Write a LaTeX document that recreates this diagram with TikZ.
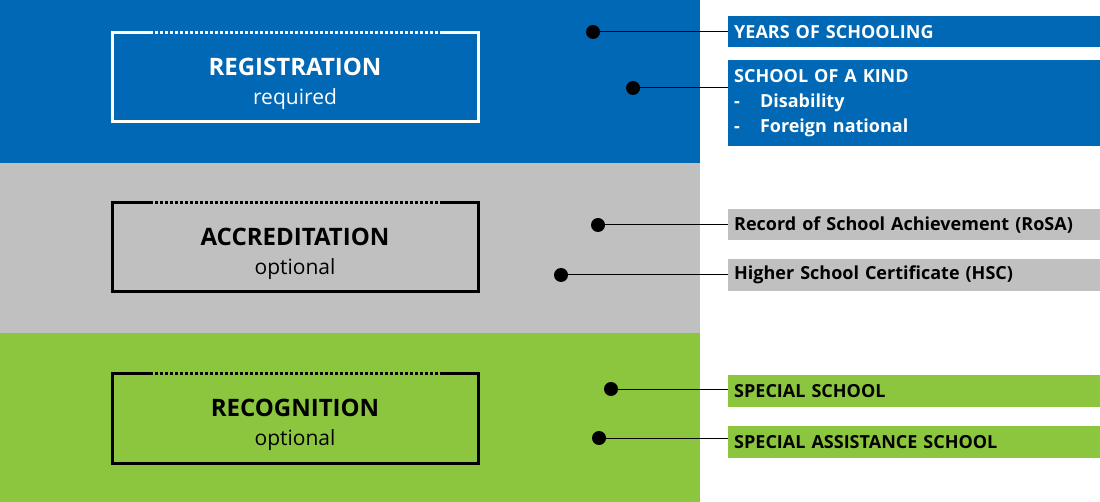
\documentclass[tikz,border=0pt]{standalone}
\usepackage{fontspec}
\setmainfont{Open Sans}
\usetikzlibrary{positioning}
\definecolor{regblue}{HTML}{0068B4}
\definecolor{accgray}{HTML}{C0C0C0}
\definecolor{recgreen}{HTML}{8CC63F}
\tikzset{
  tag/.style={anchor=north west,inner xsep=6pt,inner ysep=5pt,font=\bfseries\fontsize{18}{24}\selectfont,align=left,text width=360pt},
  pin/.style={circle,fill=black,inner sep=0pt,minimum size=14pt},
  lead/.style={line width=1pt}
}
\newcommand{\levelbox}[4]{%
  \draw[#4,line width=3pt] (150,#1) -- (112,#1) -- (112,#1+89) -- (478,#1+89) -- (478,#1) -- (440,#1);
  \draw[#4,line width=3pt,dotted] (150,#1) -- (440,#1);
  \node[#4,font=\bfseries\fontsize{24}{28}\selectfont] at (295,#1+34) {#2};
  \node[#4,font=\fontsize{21}{24}\selectfont] at (295,#1+66) {#3};
}
\begin{document}
\begin{tikzpicture}[x=1pt,y=-1pt]
\useasboundingbox (0,0) rectangle (1100,502);
% bands
\fill[regblue] (0,0) rectangle (700,163);
\fill[accgray] (0,163) rectangle (700,333);
\fill[recgreen] (0,333) rectangle (700,502);
% level boxes
\levelbox{33}{REGISTRATION}{required}{white}
\levelbox{203}{ACCREDITATION}{optional}{black}
\levelbox{374}{RECOGNITION}{optional}{black}
% label boxes
\node[tag,fill=regblue,text=white,minimum height=31pt,inner ysep=3pt] (years) at (728,16) {YEARS OF SCHOOLING};
\node[tag,fill=regblue,text=white,minimum height=86pt,inner ysep=3pt] (kind) at (728,60) {SCHOOL OF A KIND\\[1pt]-\hspace{20pt}Disability\\[1pt]-\hspace{20pt}Foreign national};
\node[tag,fill=accgray,minimum height=31pt,inner ysep=3pt] (rosa) at (728,209) {Record of School Achievement (RoSA)};
\node[tag,fill=accgray,minimum height=32pt,inner ysep=3pt] (hsc) at (728,259) {Higher School Certificate (HSC)};
\node[tag,fill=recgreen,minimum height=32pt,inner ysep=3pt] (special) at (728,375) {SPECIAL SCHOOL};
\node[tag,fill=recgreen,minimum height=32pt,inner ysep=3pt] (assist) at (728,426) {SPECIAL ASSISTANCE SCHOOL};
% pins
\node[pin] (p1) at (593,32) {};
\node[pin] (p2) at (633,88) {};
\node[pin] (p3) at (598,225) {};
\node[pin] (p4) at (561,275) {};
\node[pin] (p5) at (611,389) {};
\node[pin] (p6) at (599,438) {};
\draw[lead] (p1) -- (years.west |- p1);
\draw[lead] (p2) -- (kind.west |- p2);
\draw[lead] (p3) -- (rosa.west |- p3);
\draw[lead] (p4) -- (hsc.west |- p4);
\draw[lead] (p5) -- (special.west |- p5);
\draw[lead] (p6) -- (assist.west |- p6);
\end{tikzpicture}
\end{document}
